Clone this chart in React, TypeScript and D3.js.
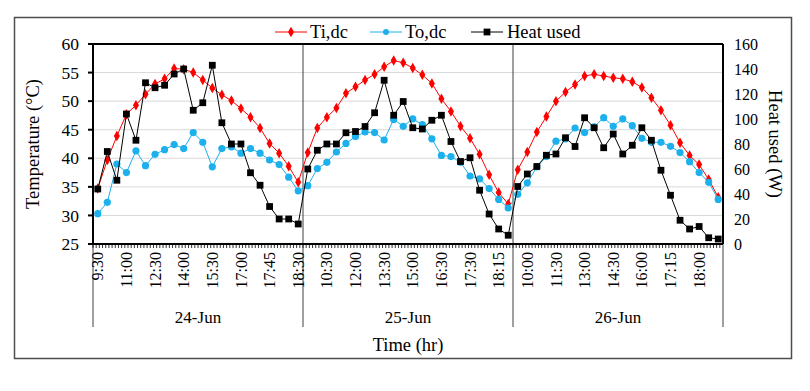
import React from "react";
import * as d3 from "d3";

// categories
const days = ["24-Jun", "25-Jun", "26-Jun"];
const times = [
  "9:30", "10:00", "10:30", "11:00", "11:30", "12:00", "12:30", "13:00", "13:30", "14:00", "14:30",
  "15:00", "15:30", "16:00", "16:30", "17:00", "17:15", "17:30", "17:45", "18:00", "18:15", "18:30",
];

// Ti,dc (°C)
const ti24 = [34.7, 39.7, 43.9, 47.7, 49.3, 51.2, 53.0, 53.9, 55.7, 55.6, 55.0, 53.7, 52.3, 51.1, 50.1, 48.7, 47.2, 45.3, 42.6, 40.9, 38.6, 35.8];
const ti25 = [41.0, 45.3, 47.2, 48.8, 51.4, 52.5, 53.7, 54.7, 56.0, 57.1, 56.7, 55.8, 54.6, 53.1, 50.4, 48.2, 45.6, 43.5, 40.7, 37.1, 34.0, 32.0];
const ti26 = [38.0, 41.1, 44.6, 47.3, 50.0, 51.6, 52.9, 54.4, 54.7, 54.4, 54.1, 53.9, 53.4, 52.4, 50.6, 48.4, 45.8, 42.7, 40.5, 38.9, 36.3, 33.2];

// To,dc (°C)
const to24 = [30.3, 32.3, 39.0, 37.5, 41.3, 38.7, 40.7, 41.5, 42.4, 41.7, 44.5, 42.8, 38.5, 41.7, 42.0, 40.9, 41.7, 40.9, 39.7, 38.9, 36.7, 34.3];
const to25 = [35.2, 38.2, 39.3, 41.1, 42.6, 43.8, 44.6, 44.5, 43.2, 46.8, 45.6, 46.9, 45.9, 43.4, 40.5, 40.3, 39.3, 36.9, 36.4, 34.7, 32.8, 31.3];
const to26 = [33.7, 35.7, 38.5, 40.3, 43.0, 43.4, 45.3, 44.5, 45.5, 47.1, 45.6, 46.9, 45.7, 43.5, 42.8, 42.8, 42.1, 41.0, 39.4, 37.5, 35.8, 32.8];

// Heat used (W)
const heat24 = [44, 74, 51, 104, 83, 129, 125, 127, 136, 140, 107, 113, 143, 97, 80, 80, 57, 47, 30, 20, 20, 16];
const heat25 = [60, 75, 80, 80, 89, 90, 94, 105, 131, 103, 114, 93, 92, 99, 103, 82, 66, 69, 43, 24, 12, 7];
const heat26 = [46, 56, 62, 71, 72, 85, 78, 101, 93, 77, 88, 72, 79, 93, 83, 59, 39, 19, 12, 14, 5, 4];

const tempTicks = [25, 30, 35, 40, 45, 50, 55, 60];
const heatTicks = [0, 20, 40, 60, 80, 100, 120, 140, 160];

const FONT = "'Liberation Serif', 'Times New Roman', serif";

type Pt = { key: string; day: string; time: string; i: number; ti: number; to: number; heat: number };

const rows: Pt[] = [];
[[ti24, to24, heat24], [ti25, to25, heat25], [ti26, to26, heat26]].forEach(([a, b, c], d) => {
  times.forEach((t, j) => {
    rows.push({ key: `${days[d]}|${t}`, day: days[d], time: t, i: rows.length, ti: a[j], to: b[j], heat: c[j] });
  });
});

export default function App() {
  const W = 810, H = 391;
  const left = 93, right = 723, top = 44, bottom = 244;

  const x = d3.scaleBand<string>().domain(rows.map((r) => r.key)).range([left, right]).padding(0);
  const cx = (r: Pt) => (x(r.key) as number) + x.bandwidth() / 2;
  const yT = d3.scaleLinear().domain([25, 60]).range([bottom, top]);
  const yH = d3.scaleLinear().domain([0, 160]).range([bottom, top]);

  const lineTi = d3.line<Pt>().x(cx).y((d) => yT(d.ti));
  const lineTo = d3.line<Pt>().x(cx).y((d) => yT(d.to));
  const lineHeat = d3.line<Pt>().x(cx).y((d) => yH(d.heat));

  const dayEdges = days.map((d) => {
    const first = rows.find((r) => r.day === d)!;
    const last = [...rows].reverse().find((r) => r.day === d)!;
    return { day: d, x0: x(first.key) as number, x1: (x(last.key) as number) + x.bandwidth() };
  });

  // minor ticks, three per category
  const minor: number[] = [];
  rows.forEach((r) => {
    for (let k = 0; k < 3; k++) minor.push((x(r.key) as number) + (k * x.bandwidth()) / 3);
  });

  const red = "#ff0000", blue = "#1cb0ec", black = "#000000";
  const diamond = d3.symbol().type(d3.symbolDiamond).size(32)();
  const square = d3.symbol().type(d3.symbolSquare).size(46)();

  return (
    <svg width={W} height={H} style={{ position: "absolute", left: 0, top: 0, background: "#fff" }} fontFamily={FONT}>
      <rect x={14.5} y={17.5} width={777} height={341} fill="#fff" stroke="#4d4d4d" strokeWidth={1.5} />

      {/* gridlines */}
      {tempTicks.slice(1, -1).map((t) => (
        <line key={t} x1={left} x2={right} y1={yT(t)} y2={yT(t)} stroke="#d9d9d9" strokeWidth={1} />
      ))}

      {/* day separators inside plot and below axis */}
      {dayEdges.slice(1).map((e) => (
        <line key={e.day} x1={e.x0} x2={e.x0} y1={top} y2={327} stroke="#404040" strokeWidth={1} />
      ))}
      <line x1={left} x2={left} y1={bottom} y2={327} stroke="#404040" strokeWidth={1} />
      <line x1={right} x2={right} y1={bottom} y2={327} stroke="#404040" strokeWidth={1} />

      {/* frame */}
      <line x1={left} x2={right} y1={top} y2={top} stroke="#000" strokeWidth={2} />
      <line x1={right} x2={right} y1={top} y2={bottom} stroke="#000" strokeWidth={2} />
      <line x1={left} x2={left} y1={top} y2={bottom} stroke="#000" strokeWidth={2} />
      <line x1={left} x2={right} y1={bottom} y2={bottom} stroke="#000" strokeWidth={2} />

      {/* minor x ticks */}
      {minor.map((m, k) => (
        <line key={k} x1={m} x2={m} y1={bottom} y2={bottom + 4} stroke="#000" strokeWidth={0.8} />
      ))}

      {/* left axis */}
      {tempTicks.map((t) => (
        <g key={t}>
          <line x1={left - 5} x2={left} y1={yT(t)} y2={yT(t)} stroke="#000" strokeWidth={2} />
          <text x={79} y={yT(t)} dy="0.35em" textAnchor="end" fontSize={17.5}>{t}</text>
        </g>
      ))}
      <text transform={`translate(33,${(top + bottom) / 2}) rotate(-90)`} textAnchor="middle" dy="0.35em" fontSize={18.5}>
        Temperature (°C)
      </text>

      {/* right axis */}
      {heatTicks.map((t) => (
        <text key={t} x={734} y={yH(t)} dy="0.35em" textAnchor="start" fontSize={16}>{t}</text>
      ))}
      <text transform={`translate(775,${(top + bottom) / 2}) rotate(90)`} textAnchor="middle" dy="0.35em" fontSize={18.5}>
        Heat used (W)
      </text>

      {/* x tick labels */}
      {rows.filter((r) => r.i % 3 === 0).map((r) => (
        <text key={r.key} transform={`translate(${cx(r)},252) rotate(-90)`} textAnchor="end" dy="0.35em" fontSize={16}>
          {r.time}
        </text>
      ))}
      {dayEdges.map((e) => (
        <text key={e.day} x={(e.x0 + e.x1) / 2} y={317} dy="0.35em" textAnchor="middle" fontSize={17}>{e.day}</text>
      ))}
      <text x={(left + right) / 2} y={345} dy="0.35em" textAnchor="middle" fontSize={18.5}>Time (hr)</text>

      {/* series */}
      <path d={lineTi(rows) ?? ""} fill="none" stroke={red} strokeWidth={1} />
      {rows.map((r) => (
        <path key={r.key} d={diamond ?? ""} transform={`translate(${cx(r)},${yT(r.ti)})`} fill={red} />
      ))}
      <path d={lineTo(rows) ?? ""} fill="none" stroke={blue} strokeWidth={1} />
      {rows.map((r) => (
        <circle key={r.key} cx={cx(r)} cy={yT(r.to)} r={3.6} fill={blue} />
      ))}
      <path d={lineHeat(rows) ?? ""} fill="none" stroke={black} strokeWidth={1} />
      {rows.map((r) => (
        <path key={r.key} d={square ?? ""} transform={`translate(${cx(r)},${yH(r.heat)})`} fill={black} />
      ))}

      {/* legend */}
      <g fontSize={18.5}>
        <line x1={275} x2={307} y1={32} y2={32} stroke={red} strokeWidth={1} />
        <path d={diamond ?? ""} transform="translate(291,32)" fill={red} />
        <text x={310} y={32} dy="0.35em">Ti,dc</text>
        <line x1={370} x2={402} y1={32} y2={32} stroke={blue} strokeWidth={1} />
        <circle cx={386} cy={32} r={3} fill={blue} />
        <text x={405} y={32} dy="0.35em">To,dc</text>
        <line x1={471} x2={503} y1={32} y2={32} stroke={black} strokeWidth={1} />
        <path d={square ?? ""} transform="translate(487,32)" fill={black} />
        <text x={507} y={32} dy="0.35em">Heat used</text>
      </g>
    </svg>
  );
}
